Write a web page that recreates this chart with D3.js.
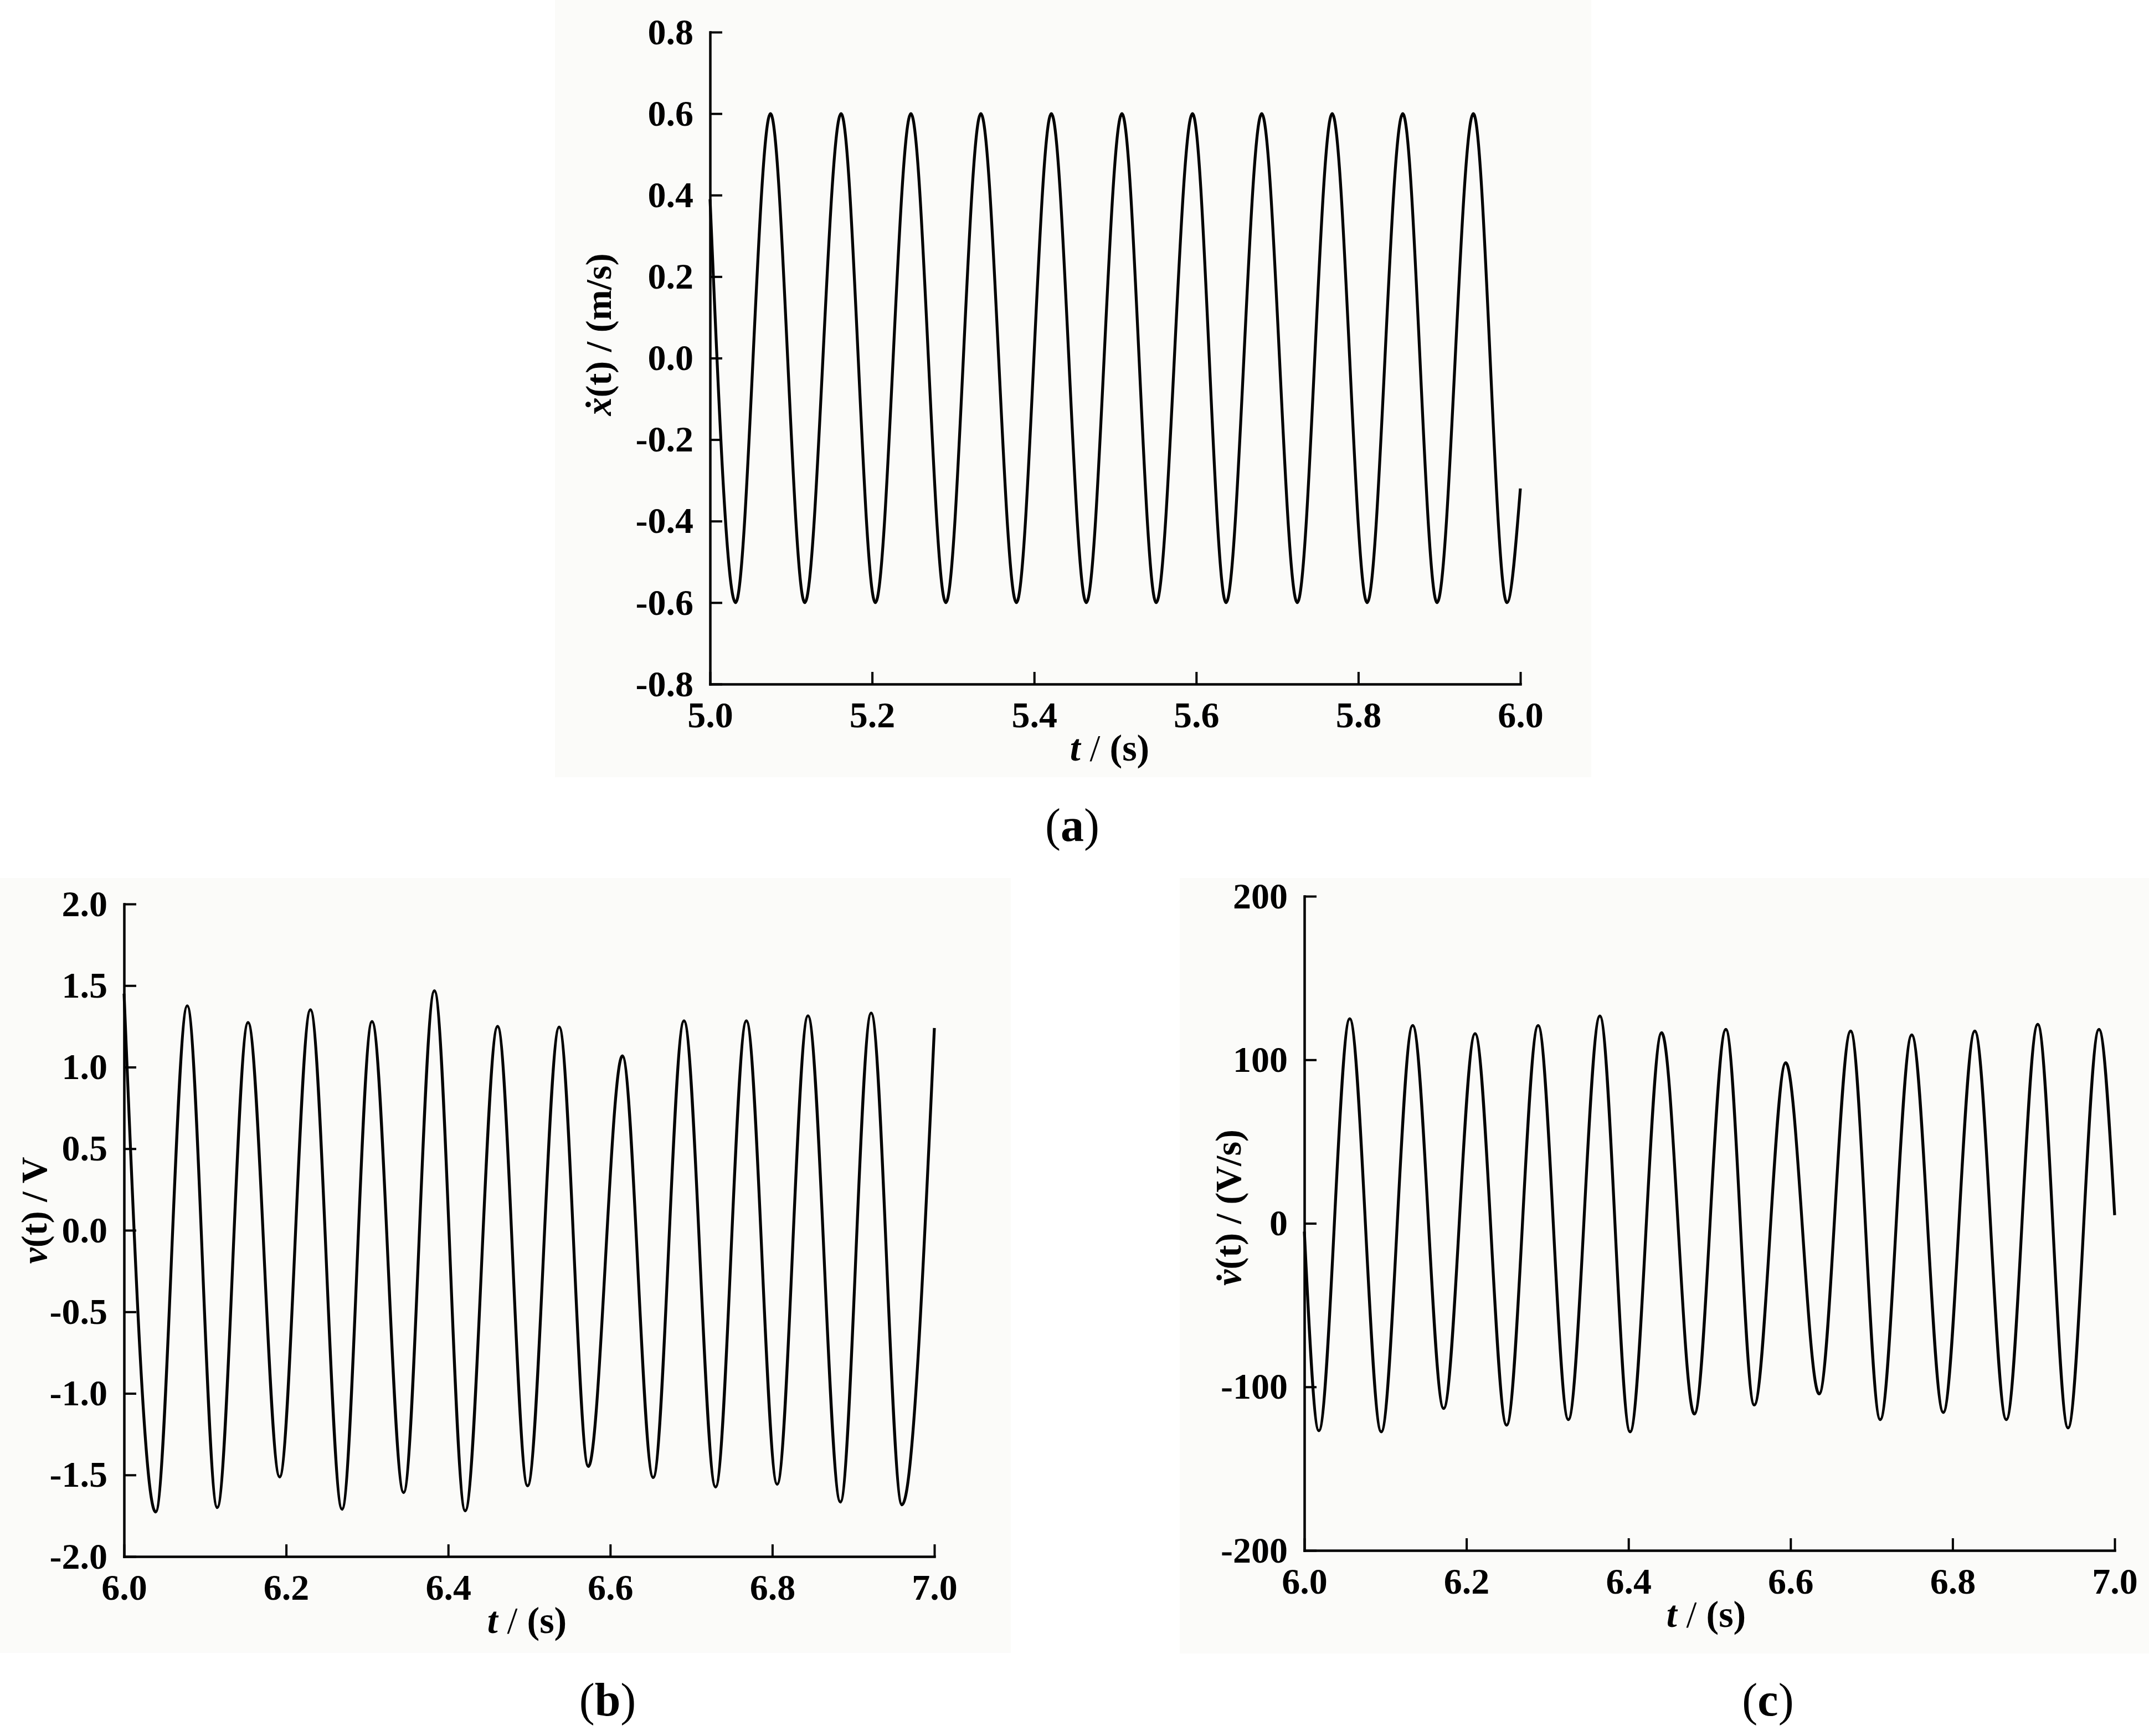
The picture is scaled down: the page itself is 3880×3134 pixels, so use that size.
<!DOCTYPE html>
<html>
<head>
<meta charset="utf-8">
<script src="https://cdn.jsdelivr.net/npm/d3@7"></script>
<style>
  html, body { margin: 0; padding: 0; background: #ffffff; }
  svg { display: block; }
</style>
</head>
<body>
<script>
// ---------------- DATA ----------------
// Panel (a): velocity x'(t) in m/s, extreme points
const tA = [5.0, 5.0315, 5.0746, 5.1169, 5.1617, 5.2040, 5.2479, 5.2910, 5.3342, 5.3781, 5.4212, 5.4643,
            5.5083, 5.5506, 5.5954, 5.6368, 5.6808, 5.7247, 5.7678, 5.8109, 5.8549, 5.8972, 5.9420, 5.9834, 6.0];
const xdotA = [0.39, -0.6, 0.6, -0.6, 0.6, -0.6, 0.6, -0.6, 0.6, -0.6, 0.6, -0.6,
               0.6, -0.6, 0.6, -0.6, 0.6, -0.6, 0.6, -0.6, 0.6, -0.6, 0.6, -0.6, -0.32];

// Panel (b): voltage v(t) in V, extreme points
const tB = [6.0, 6.039, 6.078, 6.115, 6.153, 6.192, 6.230, 6.269, 6.306, 6.345, 6.383, 6.421, 6.461,
            6.498, 6.537, 6.573, 6.615, 6.653, 6.691, 6.730, 6.768, 6.806, 6.844, 6.884, 6.922, 6.960, 7.0];
const vB = [1.45, -1.727, 1.376, -1.70, 1.274, -1.512, 1.352, -1.71, 1.28, -1.608, 1.468, -1.72, 1.25,
            -1.567, 1.246, -1.448, 1.069, -1.516, 1.284, -1.574, 1.284, -1.557, 1.315, -1.666, 1.332, -1.683, 1.24];

// Panel (c): v'(t) in V/s, extreme points
const tC = [6.0, 6.0179, 6.056, 6.0949, 6.1337, 6.1719, 6.2107, 6.2496, 6.2885, 6.3258, 6.3647, 6.402,
            6.4409, 6.4813, 6.5202, 6.5552, 6.5941, 6.6353, 6.6742, 6.7107, 6.7496, 6.7885, 6.8274, 6.8663,
            6.9051, 6.9425, 6.9806, 7.0];
const vdotC = [-5, -126.8, 125.1, -127.5, 121.0, -113.2, 116.0, -123.4, 121.0, -120, 126.8, -127.5,
               116.6, -116.6, 118.6, -111.1, 98.2, -104.3, 117.6, -120, 115.2, -115.6, 117.6, -120,
               121.7, -125.1, 118.6, 5];

// Tick values and labels
const xTicksA = [5.0, 5.2, 5.4, 5.6, 5.8, 6.0];
const xTickLabelsA = ["5.0", "5.2", "5.4", "5.6", "5.8", "6.0"];
const yTicksA = [-0.8, -0.6, -0.4, -0.2, 0.0, 0.2, 0.4, 0.6, 0.8];
const yTickLabelsA = ["-0.8", "-0.6", "-0.4", "-0.2", "0.0", "0.2", "0.4", "0.6", "0.8"];

const xTicksBC = [6.0, 6.2, 6.4, 6.6, 6.8, 7.0];
const xTickLabelsBC = ["6.0", "6.2", "6.4", "6.6", "6.8", "7.0"];
const yTicksB = [-2.0, -1.5, -1.0, -0.5, 0.0, 0.5, 1.0, 1.5, 2.0];
const yTickLabelsB = ["-2.0", "-1.5", "-1.0", "-0.5", "0.0", "0.5", "1.0", "1.5", "2.0"];
const yTicksC = [-200, -100, 0, 100, 200];
const yTickLabelsC = ["-200", "-100", "0", "100", "200"];

const panelLabels = ["a", "b", "c"];

// ---------------- LAYOUT ----------------
const W = 3880, H = 3134;
const FONT = "'Liberation Serif', 'Times New Roman', serif";

const svg = d3.select("body").append("svg")
  .attr("width", W).attr("height", H)
  .attr("viewBox", `0 0 ${W} ${H}`);

svg.append("rect").attr("x", 0).attr("y", 0).attr("width", W).attr("height", H).attr("fill", "#ffffff");

const panels = [
  { key: "a", t: tA, v: xdotA, xDom: [5.0, 6.0], yDom: [-0.8, 0.8],
    xTicks: xTicksA, xLabels: xTickLabelsA, yTicks: yTicksA, yLabels: yTickLabelsA,
    box: { x0: 1282, x1: 2745, y0: 58, y1: 1235 },
    bg: { x: 1002, y: 0, w: 1871, h: 1403 },
    yTitle: { x: 1103, y: 604, parts: [["x\u0307", "italic", "bold"], ["(t) / (m/s)", "normal", "bold"]] },
    xTitleDx: -10, label: { x: 1936, y: 1518 } },
  { key: "b", t: tB, v: vB, xDom: [6.0, 7.0], yDom: [-2.0, 2.0],
    xTicks: xTicksBC, xLabels: xTickLabelsBC, yTicks: yTicksB, yLabels: yTickLabelsB,
    box: { x0: 224, x1: 1687, y0: 1632, y1: 2810 },
    bg: { x: 0, y: 1585, w: 1825, h: 1399 },
    yTitle: { x: 84, y: 2185, parts: [["v", "italic", "bold"], ["(t) / V", "normal", "bold"]] },
    xTitleDx: -4, label: { x: 1097, y: 3097 } },
  { key: "c", t: tC, v: vdotC, xDom: [6.0, 7.0], yDom: [-200, 200],
    xTicks: xTicksBC, xLabels: xTickLabelsBC, yTicks: yTicksC, yLabels: yTickLabelsC,
    box: { x0: 2355, x1: 3818, y0: 1618, y1: 2799 },
    bg: { x: 2130, y: 1585, w: 1750, h: 1400 },
    yTitle: { x: 2240, y: 2180, parts: [["v\u0307", "italic", "bold"], ["(t) / (V/s)", "normal", "bold"]] },
    xTitleDx: -6, label: { x: 3192, y: 3097 } }
];

panels.forEach((p, i) => {
  const g = svg.append("g").attr("class", "panel-" + p.key);

  // faint panel background (as in the reference bitmap)
  g.append("rect")
    .attr("x", p.bg.x).attr("y", p.bg.y).attr("width", p.bg.w).attr("height", p.bg.h)
    .attr("fill", "#fbfbf9");

  const x = d3.scaleLinear().domain(p.xDom).range([p.box.x0, p.box.x1]);
  const y = d3.scaleLinear().domain(p.yDom).range([p.box.y1, p.box.y0]);

  // curve
  const pts = p.t.map((tt, j) => [tt, p.v[j]]);
  const line = d3.line()
    .x(d => x(d[0]))
    .y(d => y(d[1]))
    .curve(d3.curveMonotoneX);
  g.append("path")
    .datum(pts)
    .attr("d", line)
    .attr("fill", "none")
    .attr("stroke", "#000")
    .attr("stroke-width", 5.2)
    .attr("stroke-linejoin", "round");

  // x axis
  const xAxis = d3.axisBottom(x)
    .tickValues(p.xTicks)
    .tickFormat((d, k) => p.xLabels[k])
    .tickSizeInner(-22)
    .tickSizeOuter(0)
    .tickPadding(31);
  const gx = g.append("g")
    .attr("transform", `translate(0,${p.box.y1})`)
    .call(xAxis);

  // y axis
  const yAxis = d3.axisLeft(y)
    .tickValues(p.yTicks)
    .tickFormat((d, k) => p.yLabels[k])
    .tickSizeInner(-22)
    .tickSizeOuter(0)
    .tickPadding(30);
  const gy = g.append("g")
    .attr("transform", `translate(${p.box.x0},0)`)
    .call(yAxis);

  [gx, gy].forEach(ax => {
    ax.attr("font-family", null).attr("font-size", null);
    ax.select(".domain").attr("stroke", "#000").attr("stroke-width", 4.5).attr("stroke-linecap", "square");
    ax.selectAll(".tick line").attr("stroke", "#000").attr("stroke-width", 4);
    ax.selectAll(".tick text")
      .attr("fill", "#000")
      .style("font-family", FONT)
      .style("font-weight", "bold")
      .style("font-size", "66px");
  });

  // x axis title: "t / (s)"
  const xt = g.append("text")
    .attr("x", (p.box.x0 + p.box.x1) / 2 + p.xTitleDx)
    .attr("y", p.box.y1 + 138)
    .attr("text-anchor", "middle")
    .style("font-family", FONT)
    .style("font-size", "68px")
    .attr("fill", "#000");
  xt.append("tspan").style("font-style", "italic").style("font-weight", "bold").text("t");
  xt.append("tspan").style("font-weight", "normal").text(" / ");
  xt.append("tspan").style("font-weight", "bold").text("(s)");

  // y axis title (rotated)
  const yt = g.append("text")
    .attr("transform", `translate(${p.yTitle.x},${p.yTitle.y}) rotate(-90)`)
    .attr("text-anchor", "middle")
    .style("font-family", FONT)
    .style("font-size", "66px")
    .attr("fill", "#000");
  p.yTitle.parts.forEach(part => {
    yt.append("tspan")
      .style("font-style", part[1])
      .style("font-weight", part[2])
      .text(part[0]);
  });

  // sub-figure label "(a)", "(b)", "(c)"
  const lab = svg.append("text")
    .attr("x", p.label.x)
    .attr("y", p.label.y)
    .attr("text-anchor", "middle")
    .style("font-family", FONT)
    .style("font-size", "84px")
    .attr("fill", "#000");
  lab.append("tspan").text("(");
  lab.append("tspan").style("font-weight", "bold").text(panelLabels[i]);
  lab.append("tspan").text(")");
});
</script>
</body>
</html>
